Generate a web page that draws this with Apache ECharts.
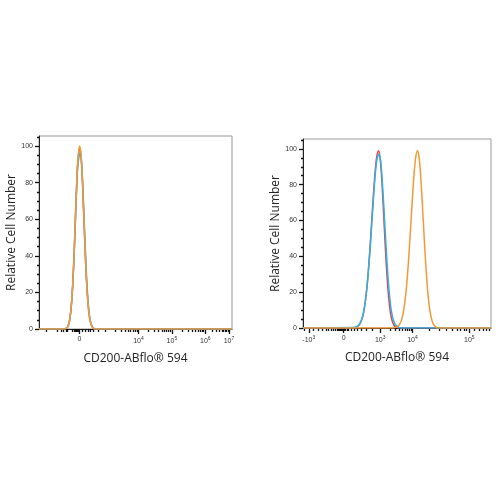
<!DOCTYPE html>
<html>
<head>
<meta charset="utf-8">
<script src="https://cdn.jsdelivr.net/npm/echarts@6/dist/echarts.min.js"></script>
<style>
  html, body { margin: 0; padding: 0; background: #fff; }
  #chart { width: 500px; height: 500px; }
</style>
</head>
<body>
<div id="chart"></div>
<script>
// x is in display units (one unit ~ one decade, 0 at the "0" label)
// left panel: isotype / unstained, all overlapping around 0
const leftRed = [[-1.21, 0], [-0.45, 0], [-0.4, 0.3], [-0.35, 1.2], [-0.3, 4.2], [-0.25, 11], [-0.2, 24.3], [-0.15, 45], [-0.1, 70], [-0.05, 90.8], [0.01, 99], [0.06, 91.8], [0.11, 72], [0.16, 48], [0.21, 27.2], [0.26, 13.3], [0.31, 5.4], [0.36, 2], [0.41, 0.6], [0.46, 0], [4.57, 0]];
const leftBlue = [[-1.21, 0], [-0.45, 0], [-0.4, 0.3], [-0.35, 1.1], [-0.3, 4], [-0.25, 10.8], [-0.2, 23.6], [-0.15, 44], [-0.1, 68.5], [-0.05, 88.5], [0.02, 96.5], [0.07, 89.5], [0.12, 70.5], [0.17, 47], [0.22, 26.8], [0.27, 13], [0.32, 5.3], [0.37, 1.9], [0.42, 0.5], [0.47, 0], [4.57, 0]];
const leftOrange = [[-1.21, 0], [-0.45, 0], [-0.4, 0.3], [-0.35, 1.2], [-0.3, 4.2], [-0.25, 11.2], [-0.2, 24.6], [-0.15, 45.5], [-0.1, 70.5], [-0.05, 91.5], [0.01, 100], [0.06, 92.5], [0.11, 72.5], [0.16, 48.5], [0.21, 27.5], [0.26, 13.5], [0.31, 5.5], [0.36, 2], [0.41, 0.6], [0.46, 0], [4.57, 0]];

// right panel: controls near 10^3, CD200 stained near 10^4
const rightRed = [[-1.2, 0], [0.28, 0], [0.33, 0.2], [0.38, 0.5], [0.43, 1.1], [0.48, 2.3], [0.53, 4.4], [0.58, 7.8], [0.63, 13.4], [0.68, 21.4], [0.73, 32.2], [0.78, 45.3], [0.83, 60.1], [0.88, 74.7], [0.93, 87.3], [0.98, 95.9], [1.03, 99], [1.08, 94.3], [1.13, 81.5], [1.18, 63.8], [1.23, 45.3], [1.28, 29], [1.33, 16.8], [1.38, 8.7], [1.43, 4.1], [1.48, 1.7], [1.53, 0.6], [1.58, 0.2], [1.63, 0], [4.35, 0]];
const rightBlue = [[-1.2, 0], [0.28, 0.3], [0.33, 0.4], [0.38, 0.7], [0.43, 1.4], [0.48, 2.6], [0.53, 4.7], [0.58, 8.1], [0.63, 13.5], [0.68, 21.2], [0.73, 31.5], [0.78, 44], [0.83, 58.2], [0.88, 72.4], [0.93, 85], [0.98, 93.8], [1.04, 97], [1.09, 93.5], [1.14, 82.3], [1.19, 66.5], [1.24, 49.4], [1.29, 33.6], [1.34, 21], [1.39, 12], [1.44, 6.4], [1.49, 3.2], [1.54, 1.5], [1.59, 0.7], [1.64, 0.3], [1.7, 0], [4.35, 0]];
const rightOrange = [[-1.2, 0], [1.48, 0], [1.53, 0.3], [1.58, 0.7], [1.63, 1.5], [1.68, 3.1], [1.73, 5.9], [1.78, 10.8], [1.83, 18.2], [1.88, 28.5], [1.93, 41.7], [1.98, 56.9], [2.03, 72.5], [2.08, 86.2], [2.13, 95.6], [2.18, 99], [2.23, 94.8], [2.28, 83.3], [2.33, 67], [2.38, 49.6], [2.43, 33.6], [2.48, 20.9], [2.53, 11.9], [2.58, 6.2], [2.63, 3], [2.68, 1.3], [2.73, 0.5], [2.78, 0], [4.35, 0]];

// tick labels and tick positions
const yTicks = [0, 20, 40, 60, 80, 100];
const yMinor = [5, 10, 15, 25, 30, 35, 45, 50, 55, 65, 70, 75, 85, 90, 95, 105];

const leftXTicks = [0, 1.77, 2.77, 3.77, 4.48];
const leftXLabels = ['{b|0}', '{b|10}{s|4}', '{b|10}{s|5}', '{b|10}{s|6}', '{b|10}{s|7}'];
const leftXMinor = [-1.0, -0.65, -0.55, -0.47, -0.4, -0.35, -0.2, -0.16, -0.13, -0.1, -0.08, -0.06, -0.04, 0.1, 0.17, 0.25, 0.33, 0.4, 0.55, 0.77, 1.07, 1.24, 1.36, 1.45, 1.53, 1.6, 1.66, 1.72, 2.07, 2.25, 2.37, 2.47, 2.55, 2.61, 2.67, 2.72, 3.07, 3.25, 3.37, 3.47, 3.55, 3.61, 3.67, 3.72, 3.98, 4.11, 4.2, 4.27, 4.32, 4.37, 4.41, 4.45];

const rightXTicks = [-1.03, 0, 1.08, 2.03, 3.71];
const rightXLabels = ['{b|-10}{s|3}', '{b|0}', '{b|10}{s|3}', '{b|10}{s|4}', '{b|10}{s|5}'];
const rightXMinor = [-1.15, -0.9, -0.75, -0.62, -0.52, -0.44, -0.37, -0.3, -0.25, -0.2, -0.16, -0.12, -0.09, -0.06, -0.03, 0.03, 0.06, 0.1, 0.15, 0.22, 0.3, 0.4, 0.52, 0.66, 0.85, 1.37, 1.53, 1.65, 1.74, 1.82, 1.88, 1.94, 1.99, 2.54, 2.83, 3.04, 3.2, 3.34, 3.45, 3.55, 3.63, 3.85, 4.0, 4.12, 4.22, 4.3];

const RED = '#e8414a';
const BLUE = '#2ab4e6';
const ORANGE = '#f39a34';
const FONT = '"Open Sans", "DejaVu Sans", sans-serif';
const SMALL = 'Arial, "Liberation Sans", sans-serif';
const TICK = { color: '#111', width: 1.3 };

const labelRich = {
  b: { fontSize: 7, color: '#333', fontFamily: SMALL },
  s: { fontSize: 5, color: '#333', fontFamily: SMALL, verticalAlign: 'top', padding: [0, 0, 6, 0] },
};

function xMajor(grid, min, max, ticks, labels) {
  return {
    type: 'value', gridIndex: grid, min: min, max: max, position: 'bottom',
    name: 'CD200-ABflo® 594', nameLocation: 'middle', nameGap: 24,
    nameTextStyle: { fontSize: 12, color: '#222', fontFamily: FONT },
    axisLine: { show: true, onZero: false, lineStyle: { color: '#222', width: 1 } },
    axisTick: { show: true, length: 5, customValues: ticks, lineStyle: TICK },
    axisLabel: {
      customValues: ticks, margin: 7, rich: labelRich,
      formatter: (v) => labels[ticks.indexOf(v)] || '',
    },
    splitLine: { show: false },
  };
}

function xMinorAxis(grid, min, max, ticks) {
  return {
    type: 'value', gridIndex: grid, min: min, max: max, position: 'bottom', offset: 0,
    axisLine: { show: false, onZero: false },
    axisTick: { show: true, length: 3, customValues: ticks, lineStyle: TICK },
    axisLabel: { show: false },
    splitLine: { show: false },
  };
}

function yMajor(grid, max) {
  return {
    type: 'value', gridIndex: grid, min: 0, max: max, position: 'left',
    name: 'Relative Cell Number', nameLocation: 'middle', nameGap: 21,
    nameTextStyle: { fontSize: 12, color: '#222', fontFamily: FONT },
    axisLine: { show: true, onZero: false, lineStyle: { color: '#222', width: 1 } },
    axisTick: { show: true, length: 4, customValues: yTicks, lineStyle: TICK },
    axisLabel: { customValues: yTicks, fontSize: 7, color: '#333', margin: 6, fontFamily: SMALL },
    splitLine: { show: false },
  };
}

function yMinorAxis(grid, max) {
  return {
    type: 'value', gridIndex: grid, min: 0, max: max, position: 'left', offset: 0,
    axisLine: { show: false, onZero: false },
    axisTick: { show: true, length: 2, customValues: yMinor, lineStyle: TICK },
    axisLabel: { show: false },
    splitLine: { show: false },
  };
}

function line(data, color, xi, yi) {
  return {
    type: 'line', data: data, xAxisIndex: xi, yAxisIndex: yi,
    smooth: 0.3, showSymbol: false, symbol: 'none',
    lineStyle: { color: color, width: 1.5 }, itemStyle: { color: color },
  };
}

const chart = echarts.init(document.getElementById('chart'), null, { renderer: 'canvas' });
chart.setOption({
  backgroundColor: '#fff',
  animation: false,
  grid: [
    { left: 39, right: 268, top: 136, bottom: 171, show: true, borderColor: '#999', borderWidth: 1 },
    { left: 303, right: 9, top: 139, bottom: 172, show: true, borderColor: '#999', borderWidth: 1 },
  ],
  xAxis: [
    xMajor(0, -1.21, 4.57, leftXTicks, leftXLabels),
    xMinorAxis(0, -1.21, 4.57, leftXMinor),
    xMajor(1, -1.2, 4.35, rightXTicks, rightXLabels),
    xMinorAxis(1, -1.2, 4.35, rightXMinor),
  ],
  yAxis: [
    yMajor(0, 105.5),
    yMinorAxis(0, 105.5),
    yMajor(1, 105.5),
    yMinorAxis(1, 105.5),
  ],
  series: [
    line(leftRed, RED, 0, 0),
    line(leftBlue, BLUE, 0, 0),
    line(leftOrange, ORANGE, 0, 0),
    line(rightRed, RED, 2, 2),
    line(rightBlue, BLUE, 2, 2),
    line(rightOrange, ORANGE, 2, 2),
  ],
});
</script>
</body>
</html>
